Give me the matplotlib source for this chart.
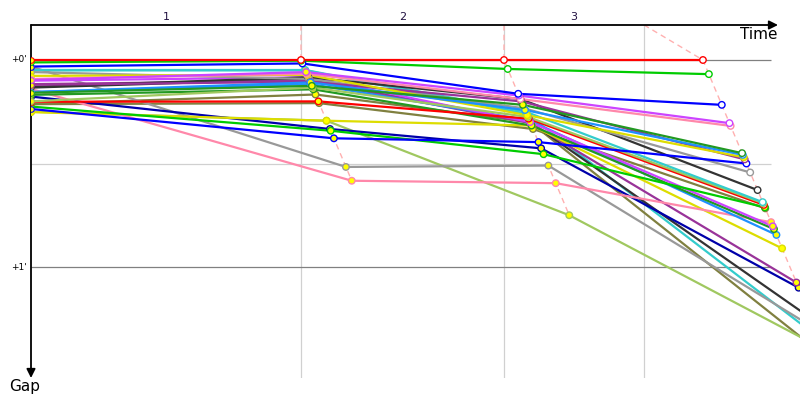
import matplotlib
matplotlib.use('Agg')
import matplotlib.pyplot as plt

# Leader lap times (s) and the time grid lines
leader_times = [186.2, 326.2, 463.4]
grid_times = [186.2, 326.2, 422.8]
lap_labels = ['1', '2', '3']

# One entry per car: colour, gap at start and after laps 1-3 (s), marker fill per lap
colors = ['#ff0000', '#00cc00', '#0000ff', '#cc44ff', '#ff88aa', '#229922', '#1e90ff',
          '#dddd00', '#993399', '#0000ff', '#999999', '#333333', '#33cccc', '#a0c860',
          '#ff0000', '#00cc00', '#cc44ff', '#229922', '#1e90ff', '#ff88aa', '#dddd00',
          '#993399', '#0000aa', '#333333', '#999999', '#33cccc', '#a0c860', '#808040',
          '#808040']
start_gap = [0.0, 0.7, 1.9, 5.8, 5.5, 9.5, 9.3, 4.6, 7.2, 14.2, 3.5, 7.8, 2.9, 12.0,
             12.1, 13.5, 6.0, 10.1, 9.3, 8.4, 15.1, 7.0, 10.6, 8.0, 1.9, 3.0, 15.0, 12.8,
             12.8]
lap1_gap = [0.0, 0.2, 1.0, 3.5, 4.0, 7.5, 6.5, 4.3, 6.3, 22.7, 5.5, 5.0, 2.9, 8.0,
            12.0, 20.5, 5.0, 8.5, 7.0, 35.0, 17.6, 6.0, 20.0, 5.5, 31.0, 3.0, 17.6, 10.0,
            12.5]
lap2_gap = [0.0, 2.6, 9.8, 10.3, 11.3, 13.0, 14.5, 16.0, 12.0, 23.8, 14.0, 11.3, 15.0, 16.5,
            17.0, 27.3, 18.0, 19.0, 17.5, 35.7, 19.0, 18.3, 25.6, 18.0, 30.6, 15.6, 45.0, 18.0,
            20.0]
lap3_gap = [0.0, 4.1, 13.0, 18.3, 19.1, 27.0, 27.5, 28.2, 28.8, 30.0, 32.6, 37.7, 41.2, 41.5,
            42.0, 42.7, 48.2, 49.0, 50.7, 47.0, 54.6, 64.5, 66.0, 75.0, 78.0, 80.7, 84.0, 86.7,
            43.0]
fills = ['www', 'www', 'www', 'yww', 'yww', 'yyw', 'yyw', 'yyy', 'yyw', 'yyw', 'yyw', 'yww',
         'yyw', 'yyw', 'yyw', 'yyy', 'yyy', 'yyy', 'yyy', 'yyy', 'yyy', 'yyy', 'yyy', 'yyy',
         'yyy', 'yyy', 'yyy', 'yyy', 'yyy']

fill_color = {'w': 'white', 'y': '#ffff00'}

fig = plt.figure(figsize=(8, 4), dpi=100)
ax = fig.add_axes([31 / 800, 1 - 378 / 400, 769 / 800, 353 / 400])
x_max = 769 / 1.45
y_top = -35 / 3.45
y_bot = 318 / 3.45
ax.set_xlim(0, x_max)
ax.set_ylim(y_bot, y_top)
for s in ax.spines.values():
    s.set_visible(False)
ax.set_xticks([])
ax.set_yticks([])

# grid
for t in grid_times:
    ax.axvline(t, color='#d0d0d0', lw=0.9, zorder=1)
ax.hlines([0, 60], 0, 510, color='#808080', lw=0.9, zorder=1)
ax.hlines([30], 0, 510, color='#d0d0d0', lw=0.9, zorder=1)

# lap lines (dashed) through each car's lap end
all_laps = [lap1_gap, lap2_gap, lap3_gap]
for k in range(3):
    gaps = sorted(all_laps[k])
    xs = [grid_times[k]] + [leader_times[k] + g for g in gaps]
    ys = [y_top] + gaps
    ax.plot(xs, ys, color='#ffb0b0', lw=1.0, ls=(0, (4, 3)), zorder=2)

# cars
n = len(colors)
for i in reversed(range(n)):
    gaps = [lap1_gap[i], lap2_gap[i], lap3_gap[i]]
    xs = [0] + [leader_times[k] + gaps[k] for k in range(3)]
    ys = [start_gap[i]] + gaps
    ax.plot(xs, ys, color=colors[i], lw=1.6, zorder=3, solid_capstyle='round')
    ax.scatter([0], [start_gap[i]], s=16, facecolor='#ffff00', edgecolor=colors[i],
               linewidth=0.8, zorder=4)
    ax.scatter(xs[1:], ys[1:], s=22, facecolor=[fill_color[c] for c in fills[i]],
               edgecolor=colors[i], linewidth=1.0, zorder=4)

# lap numbers
bounds = [0] + grid_times
for k in range(3):
    ax.text((bounds[k] + bounds[k + 1]) / 2, y_top - 2.3, lap_labels[k], ha='center',
            va='center', fontsize=8, color='#201040')

# gap labels
ax.text(-3, 0, "+0'", ha='right', va='center', fontsize=6.5)
ax.text(-3, 60, "+1'", ha='right', va='center', fontsize=6.5)

# axes arrows
ax.annotate('', xy=(747 / 769, 1), xytext=(0, 1), xycoords='axes fraction',
            arrowprops=dict(arrowstyle='-|>', color='black', lw=1.3, mutation_scale=13,
                            shrinkA=0, shrinkB=0), annotation_clip=False)
ax.annotate('', xy=(0, 0), xytext=(0, 1), xycoords='axes fraction',
            arrowprops=dict(arrowstyle='-|>', color='black', lw=1.3, mutation_scale=13,
                            shrinkA=0, shrinkB=0), annotation_clip=False)
fig.text(777 / 800, 1 - 27 / 400, 'Time', ha='right', va='top', fontsize=11)
fig.text(25 / 800, 1 - 386 / 400, 'Gap', ha='center', va='center', fontsize=11)

fig.savefig('out.png', dpi=100)
